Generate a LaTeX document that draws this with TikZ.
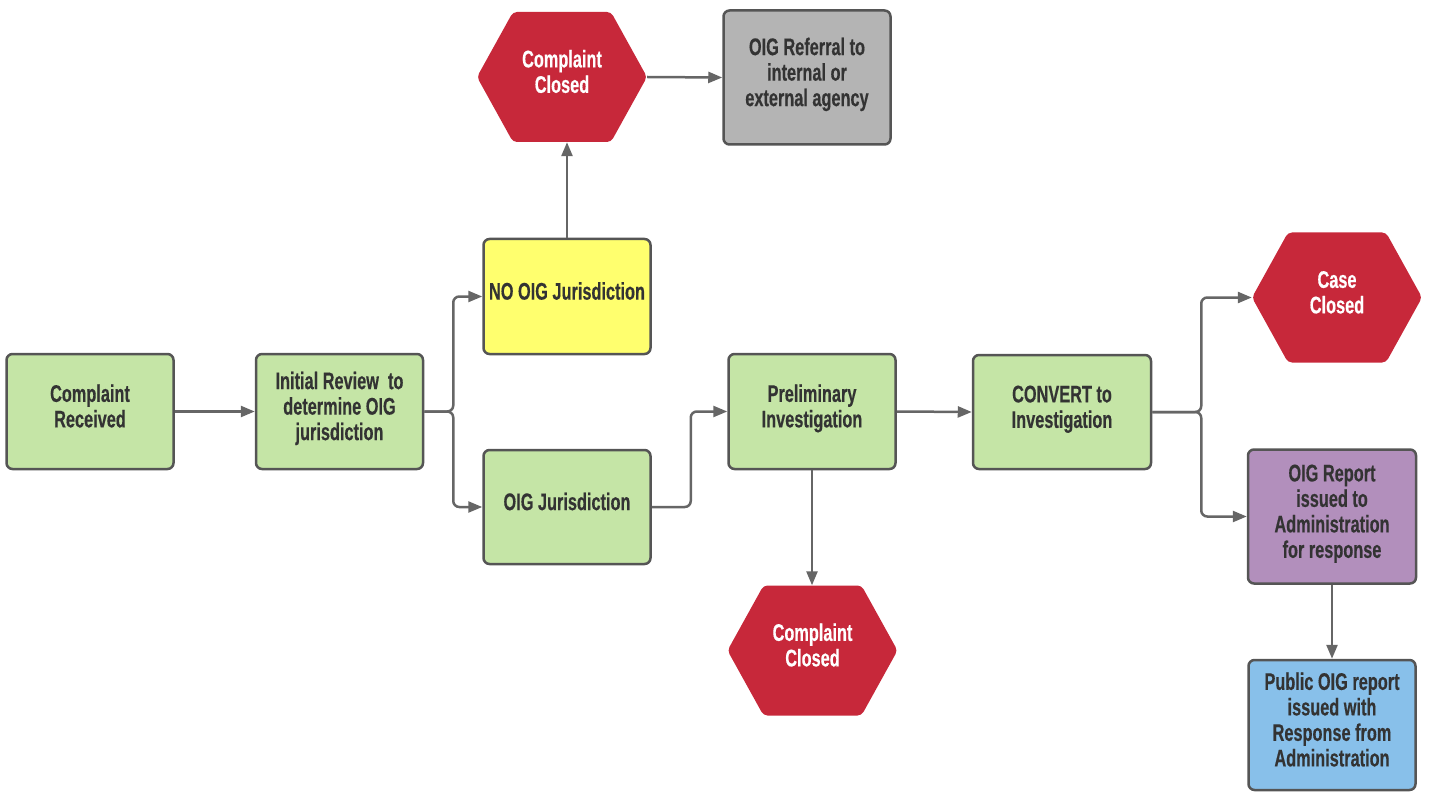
\documentclass[tikz,border=0pt]{standalone}
\usepackage{fontspec}
\setmainfont{Liberation Sans}[FakeStretch=0.68, BoldFeatures={FakeBold=0.4}]
\usetikzlibrary{arrows.meta,calc}
\definecolor{boxgreen}{HTML}{C5E5A6}
\definecolor{boxyellow}{HTML}{FFFF6E}
\definecolor{boxred}{HTML}{C7283A}
\definecolor{boxgray}{HTML}{B4B4B4}
\definecolor{boxpurple}{HTML}{B28FBC}
\definecolor{boxblue}{HTML}{88C0EA}
\definecolor{edgegray}{HTML}{555555}
\definecolor{arrgray}{HTML}{666666}
\definecolor{txtdark}{HTML}{333333}
\newcommand{\lbl}[1]{\raisebox{2pt}[\height][\depth]{\begin{tabular}{@{}c@{}}#1\end{tabular}}}
\begin{document}
\begin{tikzpicture}[x=1pt,y=-1pt,
  every node/.style={font=\bfseries\fontsize{24}{25.5}\selectfont, align=center, inner sep=0pt},
  procbox/.style={draw=edgegray, line width=2.5pt, rounded corners=6pt, text=txtdark,
    minimum width=#1, minimum height=115pt},
  procbox/.default=167pt,
  hexbox/.style={minimum width=170pt, minimum height=130pt, text=white,
    path picture={\fill[boxred, rounded corners=4pt]
      (path picture bounding box.west)
      -- ([xshift=36pt]path picture bounding box.north west)
      -- ([xshift=-36pt]path picture bounding box.north east)
      -- (path picture bounding box.east)
      -- ([xshift=-36pt]path picture bounding box.south east)
      -- ([xshift=36pt]path picture bounding box.south west)
      -- cycle;}},
  arr/.style={draw=arrgray, line width=2.5pt, rounded corners=6pt,
    -{Triangle[length=14pt,width=11pt]}}
]
\useasboundingbox (0,0) rectangle (1429,794);

\node[procbox, fill=boxgreen] (cr) at (90,411.5) {\lbl{Complaint\\Received}};
\node[procbox, fill=boxgreen] (ir) at (339.5,411.5) {\lbl{Initial Review\ \ to\\determine OIG\\jurisdiction}};
\node[procbox, fill=boxyellow] (no) at (567,296.5) {\lbl{NO OIG Jurisdiction}};
\node[procbox, fill=boxgreen, minimum height=114pt] (oj) at (567,507) {\lbl{OIG Jurisdiction}};
\node[hexbox] (cc1) at (562,77) {\lbl{Complaint\\Closed}};
\node[procbox, fill=boxgray, minimum height=134pt] (ref) at (807,77.5) {\lbl{OIG Referral to\\internal or\\external agency}};
\node[procbox, fill=boxgreen] (pi) at (812,411.5) {\lbl{Preliminary\\Investigation}};
\node[hexbox] (cc2) at (812.5,650.5) {\lbl{Complaint\\Closed}};
\node[procbox=178pt, fill=boxgreen, minimum height=114pt] (cv) at (1062,412) {\lbl{CONVERT to\\Investigation}};
\node[hexbox] (cs) at (1337,297.5) {\lbl{Case\\Closed}};
\node[procbox=168pt, fill=boxpurple, minimum height=134pt] (rep) at (1332,516.5) {\lbl{OIG Report\\issued to\\Administration\\for response}};
\node[procbox, fill=boxblue, minimum height=130pt] (pub) at (1332,725) {\lbl{Public OIG report\\issued with\\Response from\\Administration}};

\draw[arr] (cr.east) -- (ir.west);
\draw[arr] (ir.east) -- ++(29,0) |- (no.west);
\draw[arr] (ir.east) -- ++(29,0) |- (oj.west);
\draw[arr] (no.north) -- (no.north |- cc1.south);
\draw[arr] (cc1.east) -- (ref.west);
\draw[arr] (oj.east) -- ++(39,0) |- (pi.west);
\draw[arr] (pi.east) -- (cv.west);
\draw[arr] (pi.south) -- (pi.south |- cc2.north);
\draw[arr] (cv.east) -- ++(49,0) |- (cs.west);
\draw[arr] (cv.east) -- ++(49,0) |- (rep.west);
\draw[arr] (rep.south) -- (rep.south |- pub.north);
\end{tikzpicture}
\end{document}
